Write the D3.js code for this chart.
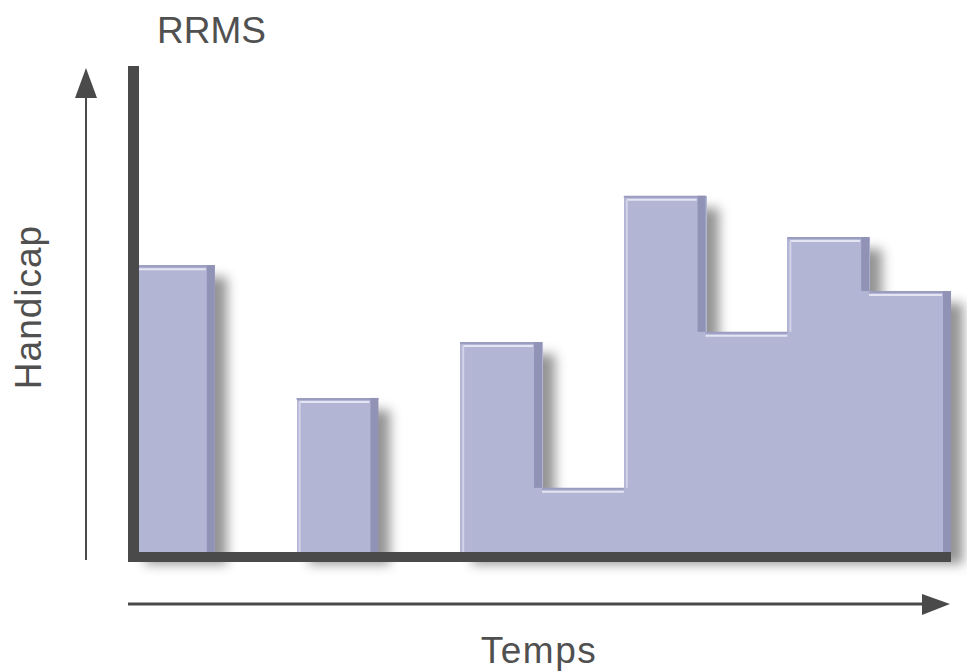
<!DOCTYPE html>
<html lang="fr">
<head>
    <meta charset="UTF-8">
    <title>RRMS</title>
    <script src="https://d3js.org/d3.v7.min.js"></script>
    <style>
        body {
            margin: 0;
            background: #fff;
            overflow: hidden;
        }
        svg {
            display: block;
        }
        .label {
            font-family: "Liberation Sans", Arial, sans-serif;
            font-size: 37px;
            fill: #505050;
        }
        .bar {
            shape-rendering: crispEdges;
        }
    </style>
</head>
<body>
    <svg width="967" height="672"></svg>

    <script>
        // Handicap level for each time period (0 = no relapse)
        const periods = ["t1", "t2", "t3", "t4", "t5", "t6", "t7", "t8", "t9", "t10"];
        const handicap = [5.9, 0, 3.17, 0, 4.32, 1.32, 7.33, 4.53, 6.48, 5.37];
        const yMax = 10;

        const svg = d3.select("svg");
        const barColor = "#b3b5d5";
        const axisColor = "#4a4a4a";

        const x = d3.scaleBand().domain(periods).range([133, 951]).padding(0);
        const y = d3.scaleLinear().domain([0, yMax]).range([552, 66]);

        // drop shadow for the bars
        const defs = svg.append("defs");
        const f = defs.append("filter").attr("id", "shadow")
            .attr("x", "-10%").attr("y", "-10%").attr("width", "130%").attr("height", "130%");
        f.append("feGaussianBlur").attr("in", "SourceAlpha").attr("stdDeviation", 6).attr("result", "blur");
        f.append("feOffset").attr("dx", 12).attr("dy", 12).attr("result", "off");
        f.append("feFlood").attr("flood-color", "#000").attr("flood-opacity", 0.42);
        f.append("feComposite").attr("in2", "off").attr("operator", "in");

        const data = periods.map((p, i) => ({ p, v: handicap[i], prev: handicap[i - 1] || 0, next: handicap[i + 1] || 0 }))
            .filter(d => d.v > 0);

        // shadow layer
        svg.append("g").attr("filter", "url(#shadow)")
            .selectAll("rect").data(data).join("rect")
            .attr("class", "bar")
            .attr("x", d => x(d.p))
            .attr("y", d => y(d.v))
            .attr("width", d => x.bandwidth() + (d.next > 0 ? 1 : 0))
            .attr("height", d => y(0) - y(d.v))
            .attr("fill", "#000");

        const bars = svg.append("g");

        bars.selectAll("rect.bar").data(data).join("rect")
            .attr("class", "bar")
            .attr("x", d => x(d.p))
            .attr("y", d => y(d.v))
            .attr("width", d => x.bandwidth() + (d.next > 0 ? 1 : 0))
            .attr("height", d => y(0) - y(d.v))
            .attr("fill", barColor);

        // darker top edge
        bars.selectAll("line.top").data(data).join("line")
            .attr("x1", d => x(d.p)).attr("x2", d => x(d.p) + x.bandwidth())
            .attr("y1", d => y(d.v) + 1).attr("y2", d => y(d.v) + 1)
            .attr("stroke", "#9a9cc0").attr("stroke-width", 2);

        // light bevel near the top
        bars.selectAll("line.hi").data(data).join("line")
            .attr("x1", d => x(d.p) + (d.prev < d.v ? 3 : 0))
            .attr("x2", d => x(d.p) + x.bandwidth() - (d.next < d.v ? 9 : 0))
            .attr("y1", d => y(d.v) + 4).attr("y2", d => y(d.v) + 4)
            .attr("stroke", "#e4e5f2").attr("stroke-width", 2);

        // light bevel on left edges that step up
        bars.selectAll("line.left").data(data.filter(d => d.prev < d.v)).join("line")
            .attr("x1", d => x(d.p) + 3).attr("x2", d => x(d.p) + 3)
            .attr("y1", d => y(d.v) + 4).attr("y2", d => y(d.prev))
            .attr("stroke", "#d2d3e8").attr("stroke-width", 2);

        // dark bevel on right edges that step down
        bars.selectAll("rect.right").data(data.filter(d => d.next < d.v)).join("rect")
            .attr("x", d => x(d.p) + x.bandwidth() - 8)
            .attr("y", d => y(d.v))
            .attr("width", 8)
            .attr("height", d => y(d.next) - y(d.v))
            .attr("fill", "#9193b6");

        // thick axes
        svg.append("rect")
            .attr("x", 128).attr("y", y(yMax))
            .attr("width", 11).attr("height", y(0) + 10 - y(yMax))
            .attr("fill", axisColor);
        svg.append("rect")
            .attr("x", 128).attr("y", y(0))
            .attr("width", x.range()[1] - 128).attr("height", 10)
            .attr("fill", axisColor);

        // arrows
        svg.append("line")
            .attr("x1", 86).attr("x2", 86).attr("y1", 560).attr("y2", 90)
            .attr("stroke", axisColor).attr("stroke-width", 2);
        svg.append("path")
            .attr("d", "M86,68 L75,98 L97,98 Z")
            .attr("fill", axisColor);

        svg.append("line")
            .attr("x1", 128).attr("x2", 925).attr("y1", 604).attr("y2", 604)
            .attr("stroke", axisColor).attr("stroke-width", 3);
        svg.append("path")
            .attr("d", "M950,604 L922,594 L922,615 Z")
            .attr("fill", axisColor);

        // texts
        svg.append("text").attr("class", "label")
            .attr("x", 157).attr("y", 43)
            .text("RRMS");

        svg.append("text").attr("class", "label")
            .attr("x", 539).attr("y", 663)
            .attr("text-anchor", "middle")
            .attr("letter-spacing", 1.5)
            .text("Temps");

        svg.append("text").attr("class", "label")
            .attr("transform", "translate(41,307) rotate(-90)")
            .attr("text-anchor", "middle")
            .attr("letter-spacing", 1)
            .text("Handicap");
    </script>
</body>
</html>
